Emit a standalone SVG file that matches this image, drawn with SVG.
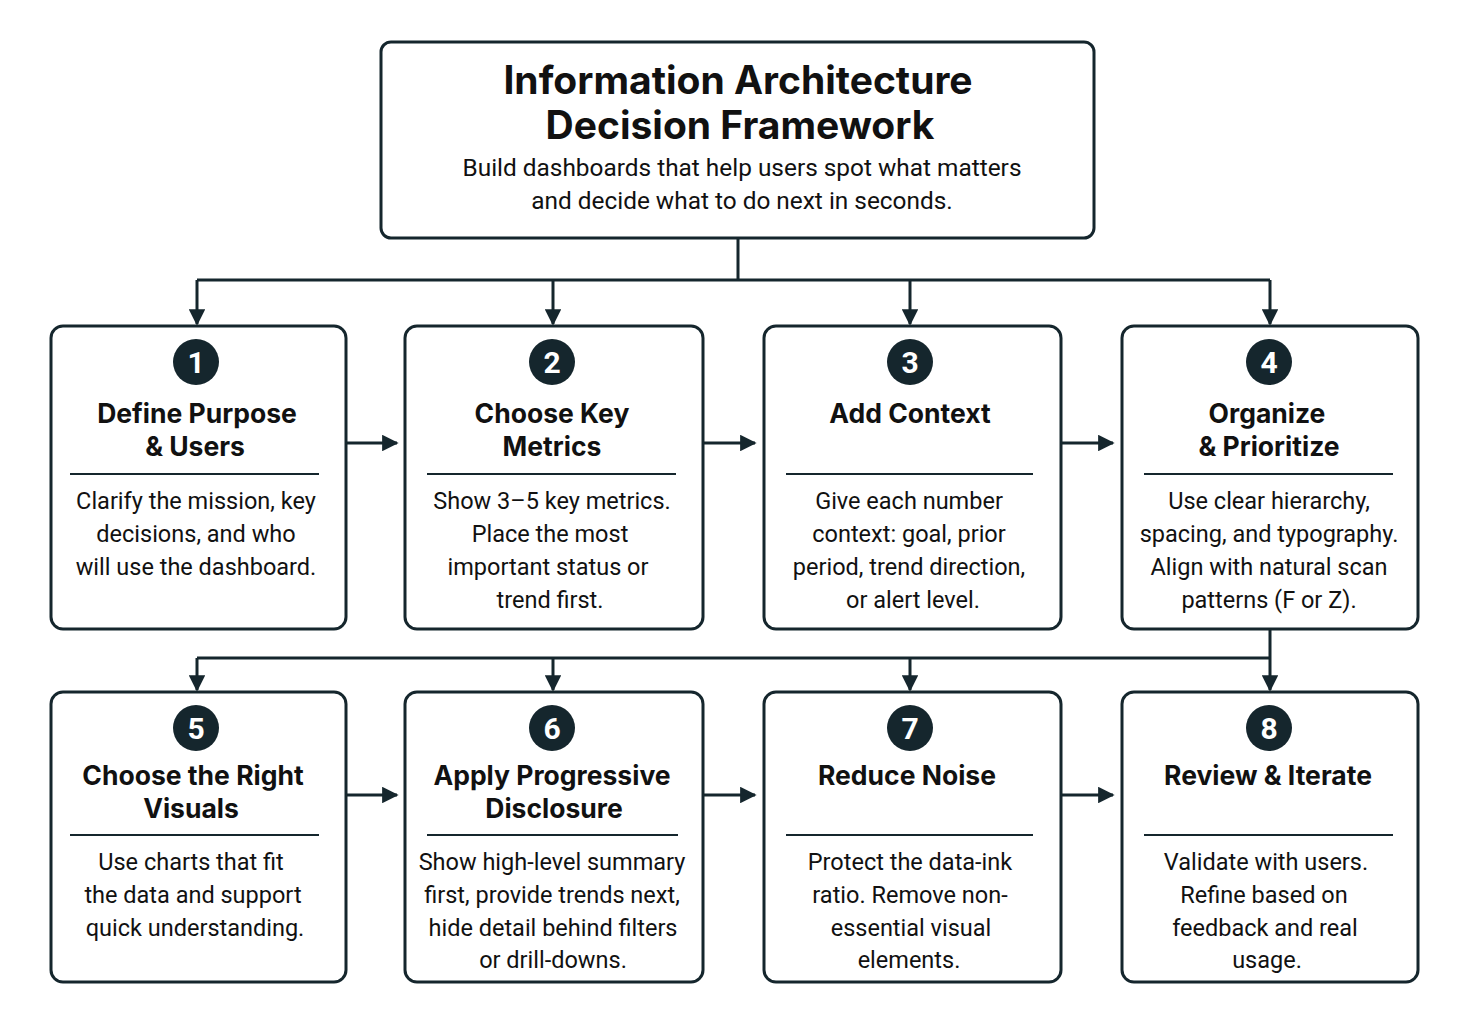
<svg xmlns="http://www.w3.org/2000/svg" width="1470" height="1023" viewBox="0 0 1470 1023">
<defs>
<marker id="ah" viewBox="0 0 10 10" refX="9" refY="5" markerWidth="5.5" markerHeight="5.5" orient="auto" markerUnits="strokeWidth">
<path d="M0,0 L10,5 L0,10 z" fill="#15262d"/>
</marker>
<style>
.box{fill:#fff;stroke:#15262d;stroke-width:3;}
.div{stroke:#15262d;stroke-width:2;}
.con{fill:none;stroke:#15262d;stroke-width:3;}
.arr{fill:none;stroke:#15262d;stroke-width:3;marker-end:url(#ah);}
.badge{fill:#15262d;}
.num{font-family:Roboto,"Liberation Sans",sans-serif;font-weight:bold;font-size:30px;fill:#fff;text-anchor:middle;}
.ttl{font-family:Inter,Roboto,"Liberation Sans",sans-serif;font-weight:bold;font-size:39px;fill:#111;text-anchor:middle;}
.sub{font-family:Roboto,"Liberation Sans",sans-serif;font-size:24.4px;fill:#111;text-anchor:middle;}
.h{font-family:Inter,Roboto,"Liberation Sans",sans-serif;font-weight:bold;font-size:26.5px;fill:#111;text-anchor:middle;}
.b{font-family:Roboto,"Liberation Sans",sans-serif;font-size:23.5px;fill:#111;text-anchor:middle;}
</style>
</defs>
<rect width="1470" height="1023" fill="#fff"/>

<g id="connectors">
<path class="con" d="M738,238 V280 M197,280 H1270"/>
<path class="arr" d="M197,280 V324"/>
<path class="arr" d="M553,280 V324"/>
<path class="arr" d="M910,280 V324"/>
<path class="arr" d="M1270,280 V324"/>
<path class="arr" d="M346,443 H397"/>
<path class="arr" d="M703,443 H755"/>
<path class="arr" d="M1061,443 H1113"/>
<path class="con" d="M1270,629 V658 M197,658 H1270"/>
<path class="arr" d="M197,658 V690"/>
<path class="arr" d="M553,658 V690"/>
<path class="arr" d="M910,658 V690"/>
<path class="arr" d="M1270,658 V690"/>
<path class="arr" d="M346,795 H397"/>
<path class="arr" d="M703,795 H755"/>
<path class="arr" d="M1061,795 H1113"/>
</g>

<g id="title">
<rect class="box" x="381" y="42" width="713" height="196" rx="10"/>
<text class="ttl" x="738" y="94">Information Architecture</text>
<text class="ttl" x="740" y="139">Decision Framework</text>
<text class="sub" x="742" y="176">Build dashboards that help users spot what matters</text>
<text class="sub" x="742" y="209">and decide what to do next in seconds.</text>
</g>

<g id="n1">
<rect class="box" x="51" y="326" width="295" height="303" rx="12"/>
<circle class="badge" cx="196" cy="362" r="23"/>
<text class="num" x="196" y="373">1</text>
<text class="h" x="197" y="423">Define Purpose</text>
<text class="h" x="195" y="456">&amp; Users</text>
<line class="div" x1="70" y1="474" x2="319" y2="474"/>
<text class="b" x="196" y="509">Clarify the mission, key</text>
<text class="b" x="196" y="542">decisions, and who</text>
<text class="b" x="196" y="575">will use the dashboard.</text>
</g>

<g id="n2">
<rect class="box" x="405" y="326" width="298" height="303" rx="12"/>
<circle class="badge" cx="552" cy="362" r="23"/>
<text class="num" x="552" y="373">2</text>
<text class="h" x="552" y="423">Choose Key</text>
<text class="h" x="552" y="456">Metrics</text>
<line class="div" x1="427" y1="474" x2="676" y2="474"/>
<text class="b" x="552" y="509">Show 3–5 key metrics.</text>
<text class="b" x="550" y="542">Place the most</text>
<text class="b" x="548" y="575">important status or</text>
<text class="b" x="550" y="608">trend first.</text>
</g>

<g id="n3">
<rect class="box" x="764" y="326" width="297" height="303" rx="12"/>
<circle class="badge" cx="910" cy="362" r="23"/>
<text class="num" x="910" y="373">3</text>
<text class="h" x="910" y="423">Add Context</text>
<line class="div" x1="786" y1="474" x2="1033" y2="474"/>
<text class="b" x="909" y="509">Give each number</text>
<text class="b" x="909" y="542">context: goal, prior</text>
<text class="b" x="909" y="575">period, trend direction,</text>
<text class="b" x="913" y="608">or alert level.</text>
</g>

<g id="n4">
<rect class="box" x="1122" y="326" width="296" height="303" rx="12"/>
<circle class="badge" cx="1269" cy="362" r="23"/>
<text class="num" x="1269" y="373">4</text>
<text class="h" x="1267" y="423">Organize</text>
<text class="h" x="1269" y="456">&amp; Prioritize</text>
<line class="div" x1="1144" y1="474" x2="1393" y2="474"/>
<text class="b" x="1269" y="509">Use clear hierarchy,</text>
<text class="b" x="1269" y="542">spacing, and typography.</text>
<text class="b" x="1269" y="575">Align with natural scan</text>
<text class="b" x="1269" y="608">patterns (F or Z).</text>
</g>

<g id="n5">
<rect class="box" x="51" y="692" width="295" height="290" rx="12"/>
<circle class="badge" cx="196" cy="728" r="23"/>
<text class="num" x="196" y="739">5</text>
<text class="h" x="193" y="785">Choose the Right</text>
<text class="h" x="191" y="818">Visuals</text>
<line class="div" x1="70" y1="835" x2="319" y2="835"/>
<text class="b" x="191" y="870">Use charts that fit</text>
<text class="b" x="193" y="903">the data and support</text>
<text class="b" x="195" y="936">quick understanding.</text>
</g>

<g id="n6">
<rect class="box" x="405" y="692" width="298" height="290" rx="12"/>
<circle class="badge" cx="552" cy="728" r="23"/>
<text class="num" x="552" y="739">6</text>
<text class="h" x="552" y="785">Apply Progressive</text>
<text class="h" x="554" y="818">Disclosure</text>
<line class="div" x1="427" y1="835" x2="678" y2="835"/>
<text class="b" x="552" y="870">Show high-level summary</text>
<text class="b" x="552" y="903">first, provide trends next,</text>
<text class="b" x="553" y="936">hide detail behind filters</text>
<text class="b" x="553" y="968">or drill-downs.</text>
</g>

<g id="n7">
<rect class="box" x="764" y="692" width="297" height="290" rx="12"/>
<circle class="badge" cx="910" cy="728" r="23"/>
<text class="num" x="910" y="739">7</text>
<text class="h" x="907" y="785">Reduce Noise</text>
<line class="div" x1="786" y1="835" x2="1033" y2="835"/>
<text class="b" x="910" y="870">Protect the data-ink</text>
<text class="b" x="910" y="903">ratio. Remove non-</text>
<text class="b" x="911" y="936">essential visual</text>
<text class="b" x="909" y="968">elements.</text>
</g>

<g id="n8">
<rect class="box" x="1122" y="692" width="296" height="290" rx="12"/>
<circle class="badge" cx="1269" cy="728" r="23"/>
<text class="num" x="1269" y="739">8</text>
<text class="h" x="1268" y="785">Review &amp; Iterate</text>
<line class="div" x1="1144" y1="835" x2="1393" y2="835"/>
<text class="b" x="1266" y="870">Validate with users.</text>
<text class="b" x="1264" y="903">Refine based on</text>
<text class="b" x="1265" y="936">feedback and real</text>
<text class="b" x="1267" y="968">usage.</text>
</g>
</svg>
